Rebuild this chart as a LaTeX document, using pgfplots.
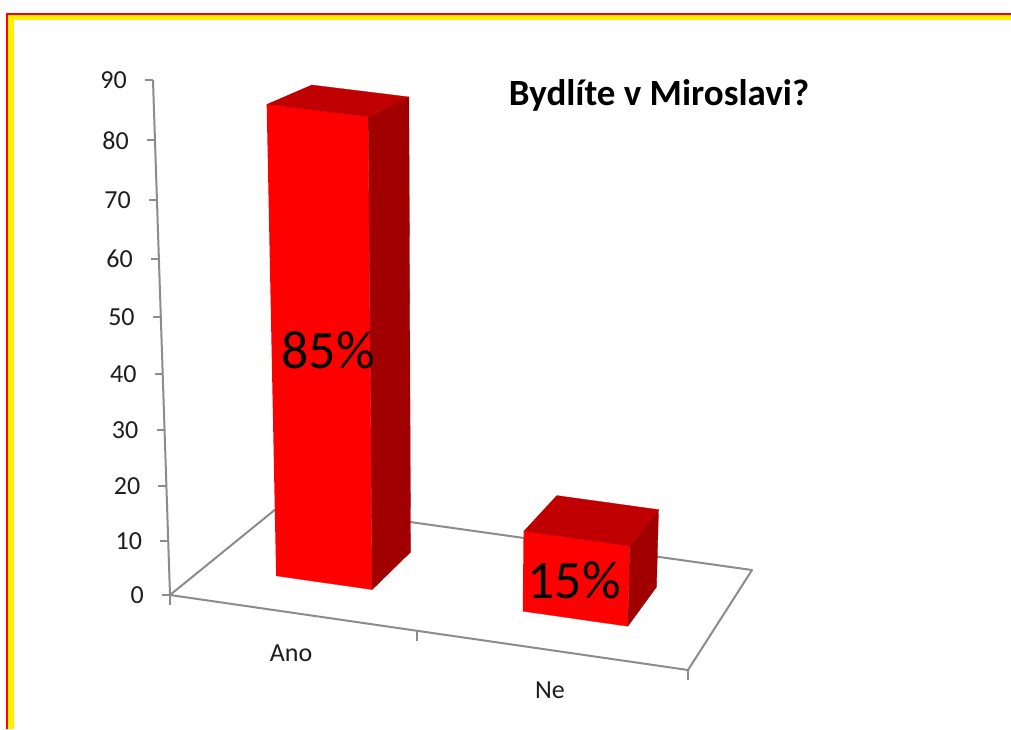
\documentclass[border=0pt]{standalone}
\usepackage{fontspec}
\setmainfont{Carlito}
\usepackage{pgfplots}
\pgfplotsset{compat=1.18}

\definecolor{barfront}{RGB}{255,0,0}
\definecolor{bartop}{RGB}{192,0,0}
\definecolor{barside}{RGB}{160,0,0}
\definecolor{axisgrey}{RGB}{140,140,140}
\definecolor{textgrey}{RGB}{30,30,30}

% perspective of the chart: u along categories, v into the depth (both 0..1), w the value
\newcommand{\den}{(1-0.02073*\thisrow{u}+0.10495*\thisrow{v}-0.05906*\thisrow{w}/90)}
\pgfplotsset{
  /pgfplots/table/proj/.style={
    x expr={(170+503.74*\thisrow{u}+141.6*\thisrow{v}-26.05*\thisrow{w}/90)/\den},
    y expr={(595+61.11*\thisrow{u}-38.1*\thisrow{v}-519.7*\thisrow{w}/90)/\den},
  },
  face/.style={fill=#1, draw=#1, line width=0.3pt, mark=none},
  axisline/.style={draw=axisgrey, line width=2pt, mark=none},
  ticks/.style={only marks, mark=#1, every mark/.append style={draw=axisgrey, line width=2pt}},
  labels/.style={draw=none, mark=none, point meta=explicit symbolic,
    nodes near coords={\pgfplotspointmeta},
    every node near coord/.append style={font=\fontsize{#1}{#1}\selectfont,
      text=textgrey, inner sep=0pt, anchor=center}},
}

\begin{document}
\begin{tikzpicture}
  \begin{axis}[
      scale only axis,
      width=1011pt,
      height=729pt,
      xmin=0, xmax=1011,
      ymin=0, ymax=729,
      y dir=reverse,
      hide axis,
    ]
    % page and frame
    \fill[white] (axis cs:0,0) rectangle (axis cs:1011,729);
    \fill[red] (axis cs:6,12.5) rectangle (axis cs:1011,729);
    \fill[yellow] (axis cs:8,14.5) rectangle (axis cs:1011,729);
    \fill[white] (axis cs:14,19.5) rectangle (axis cs:1011,729);

    % floor and value axis
    \addplot[axisline, line join=round] table[proj] {
      u v w
      0 0 0
      1 0 0
      1 1 0
      0 1 0
      0 0 0
      0 0 90
    };

    % value ticks
    \addplot[ticks=-, every mark/.append style={xshift=-4pt}, mark size=4pt] table[proj] {
      u v w
      0 0 0
      0 0 10
      0 0 20
      0 0 30
      0 0 40
      0 0 50
      0 0 60
      0 0 70
      0 0 80
      0 0 90
    };
    % category ticks
    \addplot[ticks=|, every mark/.append style={yshift=-5pt}, mark size=5pt] table[proj] {
      u v w
      0 0 0
      0.482 0 0
      1 0 0
    };

    % Ano
    \addplot[face=barfront] table[proj] {
      u v w
      0.142 0.30 0
      0.335 0.30 0
      0.335 0.30 85
      0.142 0.30 85
    };
    \addplot[face=barside] table[proj] {
      u v w
      0.335 0.30 0
      0.335 0.70 0
      0.335 0.70 85
      0.335 0.30 85
    };
    \addplot[face=bartop] table[proj] {
      u v w
      0.142 0.30 85
      0.335 0.30 85
      0.335 0.70 85
      0.142 0.70 85
    };

    % Ne
    \addplot[face=barfront] table[proj] {
      u v w
      0.635 0.30 0
      0.842 0.30 0
      0.842 0.30 15
      0.635 0.30 15
    };
    \addplot[face=barside] table[proj] {
      u v w
      0.842 0.30 0
      0.842 0.70 0
      0.842 0.70 15
      0.842 0.30 15
    };
    \addplot[face=bartop] table[proj] {
      u v w
      0.635 0.30 15
      0.842 0.30 15
      0.842 0.70 15
      0.635 0.70 15
    };

    % value tick labels
    \addplot[labels=26, every node near coord/.append style={anchor=east, xshift=-26pt}]
      table[proj, meta=w] {
      u v w
      0 0 0
      0 0 10
      0 0 20
      0 0 30
      0 0 40
      0 0 50
      0 0 60
      0 0 70
      0 0 80
      0 0 90
    };
    % category labels
    \addplot[labels=26] table[x=x, y=y, meta=name] {
      x y name
      291 653 Ano
      550 690 Ne
    };
    % percentages
    \addplot[labels=54, nodes near coords={\pgfplotspointmeta\%},
      every node near coord/.append style={text=black}] table[x=x, y=y, meta=share] {
      x y share
      328 350 85
      574 580 15
    };

    \node[font=\fontsize{37}{37}\selectfont\bfseries, text=black, inner sep=0pt]
      at (axis cs:659,95) {Bydlíte v Miroslavi?};
  \end{axis}
\end{tikzpicture}
\end{document}
